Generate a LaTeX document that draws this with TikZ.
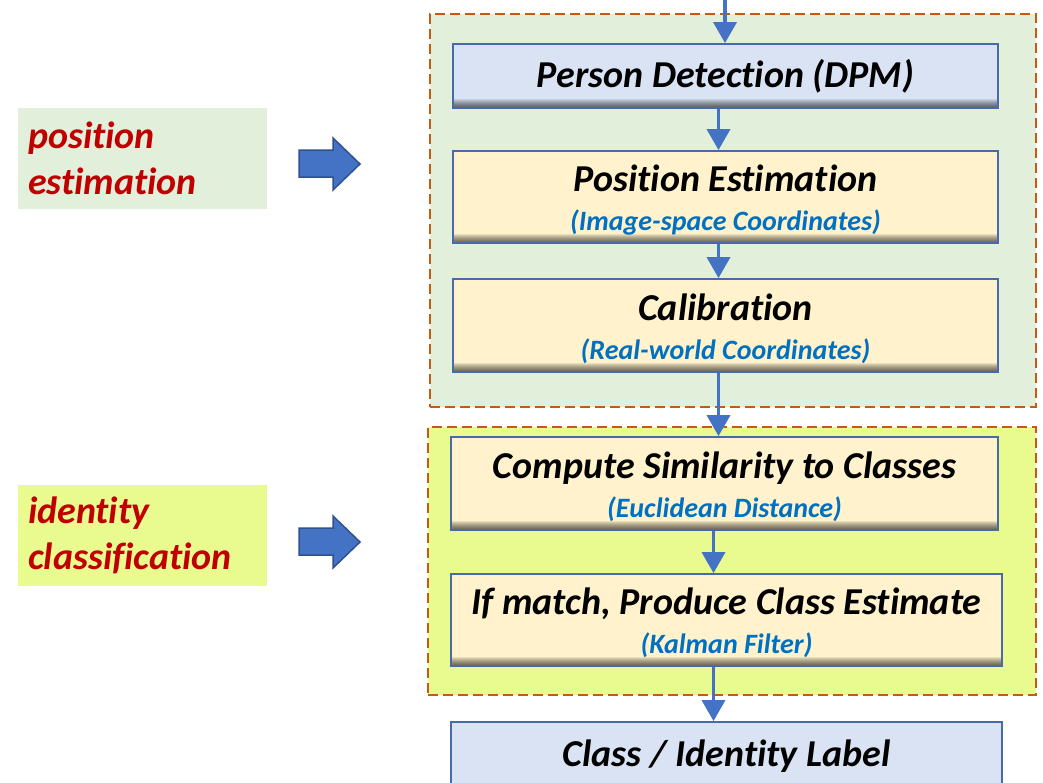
\documentclass[tikz,border=0pt]{standalone}
\usepackage{fontspec}
\setmainfont{Carlito}[Ligatures=NoCommon]
\usetikzlibrary{arrows.meta}

\definecolor{groupgreen}{RGB}{226,239,218}
\definecolor{groupyellow}{RGB}{233,251,143}
\definecolor{boxblue}{RGB}{218,227,243}
\definecolor{boxcream}{RGB}{255,242,204}
\definecolor{boxedge}{RGB}{72,106,168}
\definecolor{flowblue}{RGB}{68,114,196}
\definecolor{arrowedge}{RGB}{47,82,143}
\definecolor{dashorange}{RGB}{197,90,17}
\definecolor{labelred}{RGB}{192,0,0}
\definecolor{subblue}{RGB}{0,112,192}

% first line of a two-line step, with a fixed top
\newcommand{\headline}[1]{\rule{0pt}{33pt}#1}
% second, smaller line of a step
\newcommand{\subline}[1]{{\fontsize{28}{28}\selectfont\color{subblue}#1}}

\begin{document}
\begin{tikzpicture}[x=1pt,y=-1pt,
  stepbox/.style={draw=boxedge, line width=1.8pt, fill=#1, inner sep=0pt,
    minimum width=545pt, align=center,
    font=\bfseries\itshape\fontsize{38}{38}\selectfont,
    % soft darkening along the lower edge
    path picture={\foreach \k in {1,...,9}{
      \fill[black, opacity=0.085] (path picture bounding box.south west)
        rectangle ([yshift=\k pt]path picture bounding box.south east);}}},
  group/.style={draw=dashorange, fill=#1, line width=2.4pt,
    dash pattern=on 10pt off 5pt, inner sep=0pt},
  tag/.style={fill=#1, inner sep=0pt, minimum width=249pt, minimum height=101pt,
    text width=229pt, align=left, text=labelred,
    font=\bfseries\itshape\fontsize{38}{46}\selectfont},
  flow/.style={draw=flowblue, line width=3.5pt,
    -{Triangle[width=23pt,length=21pt]}},
  bigarrow/.style={fill=flowblue, draw=arrowedge, line width=1.5pt, line join=miter}
]
\useasboundingbox (0,0) rectangle (1043,782);
\clip (0,0) rectangle (1043,782);

% dashed stage groups
\node[group=groupgreen, minimum width=606pt, minimum height=393pt] (g1) at (733,210.5) {};
\node[group=groupyellow, minimum width=608pt, minimum height=268pt] (g2) at (732,561) {};

% processing steps
\node[stepbox=boxblue, minimum height=64pt] (det) at (725.5,76) {Person Detection (DPM)};
\node[stepbox=boxcream, minimum height=92pt] (pos) at (725.5,197)
  {\headline{Position Estimation}\\[1pt]\subline{(Image-space Coordinates)}};
\node[stepbox=boxcream, minimum height=93pt] (cal) at (725.5,325.5)
  {\headline{Calibration}\\[1pt]\subline{(Real-world Coordinates)}};
\node[stepbox=boxcream, minimum width=547pt, minimum height=93pt] (sim) at (724.5,483.5)
  {\headline{Compute Similarity to Classes}\\[1pt]\subline{(Euclidean Distance)}};
\node[stepbox=boxcream, minimum width=551pt, minimum height=92pt] (match) at (726.5,620)
  {\headline{If match, Produce Class Estimate}\\[1pt]\subline{(Kalman Filter)}};
\node[stepbox=boxblue, minimum width=551pt, minimum height=70pt] (lab) at (726.5,757)
  {\raisebox{7pt}{Class / Identity Label}};

% flow between steps
\coordinate (in) at (725,0);
\draw[flow] (in) -- (in |- det.north);
\draw[flow] ([xshift=-7pt]det.south) -- ([xshift=-7pt]pos.north);
\draw[flow] ([xshift=-7pt]pos.south) -- ([xshift=-7pt]cal.north);
\draw[flow] ([xshift=-7pt]cal.south) -- ([xshift=-6pt]sim.north);
\draw[flow] ([xshift=-11pt]sim.south) -- ([xshift=-13pt]match.north);
\draw[flow] ([xshift=-13pt]match.south) -- ([xshift=-13pt]lab.north);

% stage labels
\node[tag=groupgreen] (t1) at (142.5,158.5) {position\\estimation};
\node[tag=groupyellow] (t2) at (142.5,535) {identity\\classification};

% block arrows pointing at the stages
\draw[bigarrow] (299,150) -- (333,150) -- (333,138) -- (360,164) -- (333,190)
  -- (333,177) -- (299,177) -- cycle;
\draw[bigarrow] (299,528) -- (333,528) -- (333,516) -- (360,542) -- (333,568)
  -- (333,555) -- (299,555) -- cycle;
\end{tikzpicture}
\end{document}
